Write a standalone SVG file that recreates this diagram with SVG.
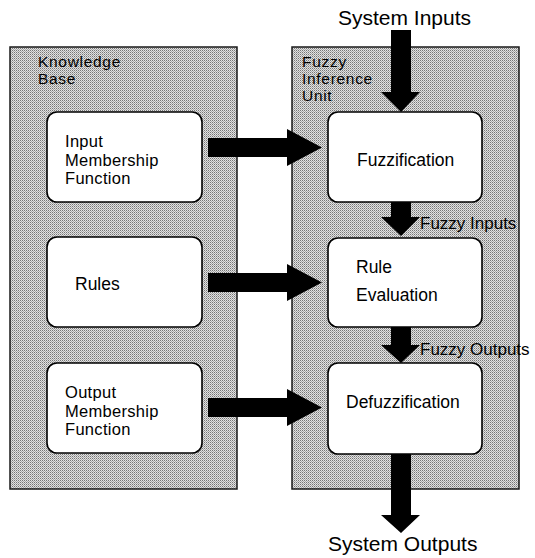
<svg xmlns="http://www.w3.org/2000/svg" width="535" height="558" viewBox="0 0 535 558">
<defs>
<pattern id="stip" width="2" height="2" patternUnits="userSpaceOnUse">
<rect width="2" height="2" fill="#e2e2e2"/>
<rect x="0" y="0" width="1" height="1" fill="#767676"/>
<rect x="1" y="1" width="1" height="1" fill="#a8a8a8"/>
</pattern>
</defs>
<style>
.panel{fill:url(#stip);stroke:#1a1a1a;stroke-width:1.5}
.box{fill:#fff;stroke:#000;stroke-width:1.6}
.t{font-family:"Liberation Sans",Arial,sans-serif;font-size:17.5px;fill:#000}
.m{font-family:"Liberation Sans",Arial,sans-serif;font-size:16.5px;letter-spacing:0.3px;fill:#000}
.pt{font-family:"Liberation Sans",Arial,sans-serif;font-size:15.5px;letter-spacing:0.7px;fill:#000}
.lb{font-family:"Liberation Sans",Arial,sans-serif;font-size:17px;fill:#000}
.big{font-family:"Liberation Sans",Arial,sans-serif;font-size:21px;fill:#000}
.arr{fill:#000}
</style>
<g id="knowledge-base">
<rect class="panel" x="10" y="47" width="227" height="442"/>
<text class="pt" x="38" y="67">Knowledge</text>
<text class="pt" x="38" y="84">Base</text>
</g>
<g id="fuzzy-inference-unit">
<rect class="panel" x="292" y="47" width="227" height="442"/>
<text class="pt" x="302" y="67">Fuzzy</text>
<text class="pt" x="302" y="84">Inference</text>
<text class="pt" x="302" y="101">Unit</text>
</g>
<g id="input-membership">
<rect class="box" x="47" y="112" width="155" height="90" rx="10"/>
<text class="m" x="65" y="147">Input</text>
<text class="m" x="65" y="165.5">Membership</text>
<text class="m" x="65" y="184">Function</text>
</g>
<g id="rules">
<rect class="box" x="47" y="237" width="155" height="90" rx="10"/>
<text class="t" x="75" y="290">Rules</text>
</g>
<g id="output-membership">
<rect class="box" x="47" y="363" width="155" height="90" rx="10"/>
<text class="m" x="65" y="398">Output</text>
<text class="m" x="65" y="416.5">Membership</text>
<text class="m" x="65" y="435">Function</text>
</g>
<g id="fuzzification">
<rect class="box" x="328" y="112" width="154" height="90" rx="10"/>
<text class="t" x="357" y="166">Fuzzification</text>
</g>
<g id="rule-evaluation">
<rect class="box" x="328" y="238" width="154" height="89" rx="10"/>
<text class="t" x="356" y="273">Rule</text>
<text class="t" x="356" y="301">Evaluation</text>
</g>
<g id="defuzzification">
<rect class="box" x="328" y="363" width="154" height="91" rx="10"/>
<text class="t" x="346" y="408">Defuzzification</text>
</g>
<g id="connectors">
<polygon class="arr" points="208,138 287,138 287,129 322,147.5 287,166 287,157 208,157"/>
<polygon class="arr" points="208,273 287,273 287,264 322,282.5 287,301 287,292 208,292"/>
<polygon class="arr" points="208,398 287,398 287,389 322,407.5 287,426 287,417 208,417"/>
<polygon class="arr" points="391,30 411,30 411,92 420,92 401,112 381,92 391,92"/>
<polygon class="arr" points="391,202 411,202 411,217 420,217 401,236 381,217 391,217"/>
<polygon class="arr" points="391,327 411,327 411,345 420,345 401,363 381,345 391,345"/>
<polygon class="arr" points="391,454 411,454 411,515 420,515 401,533 381,515 391,515"/>
</g>
<g id="labels">
<text class="big" x="338" y="25">System Inputs</text>
<text class="big" x="328" y="551">System Outputs</text>
<text class="lb" x="420" y="229">Fuzzy Inputs</text>
<text class="lb" x="420" y="355">Fuzzy Outputs</text>
</g>
</svg>
